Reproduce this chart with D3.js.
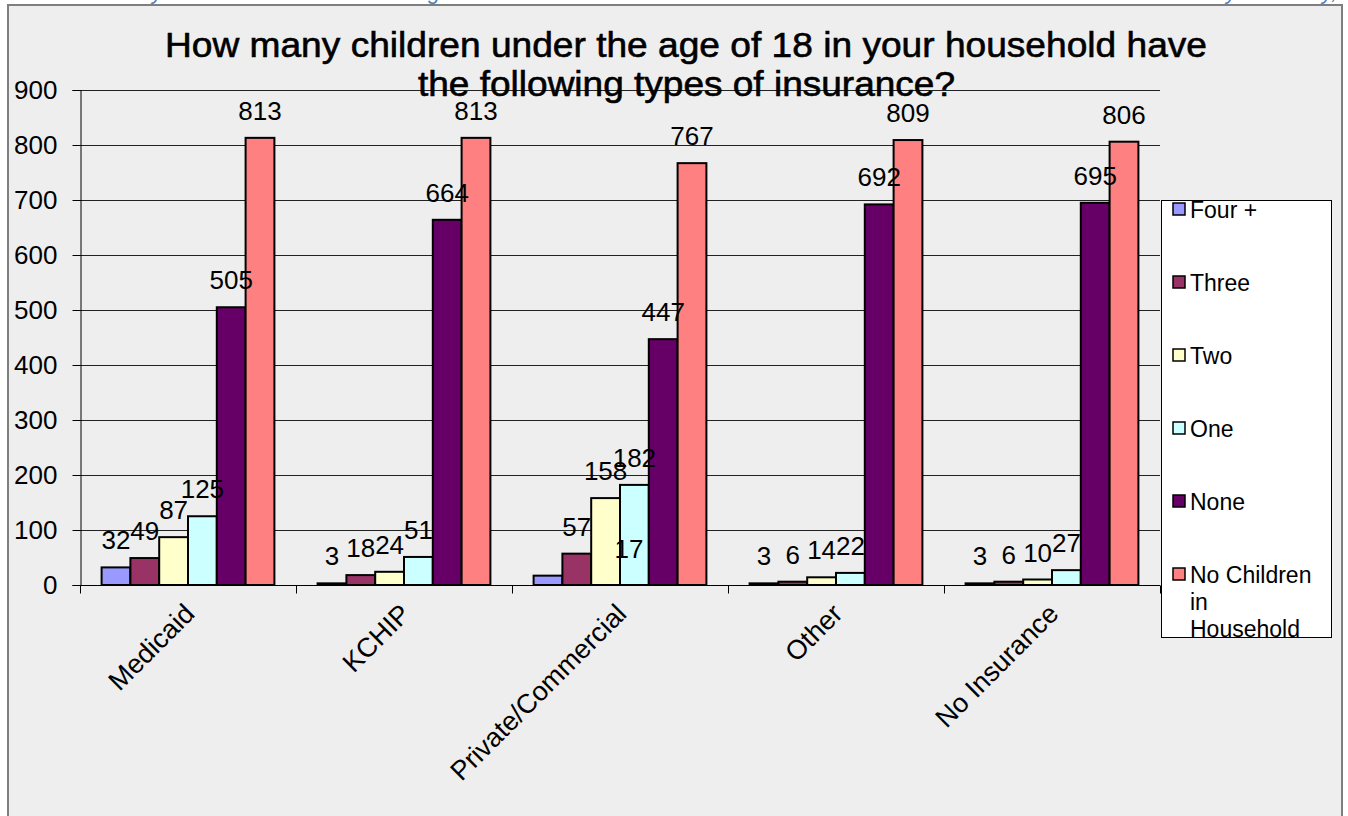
<!DOCTYPE html>
<html><head><meta charset="utf-8">
<script src="https://cdn.jsdelivr.net/npm/d3@7"></script>
<style>
html,body{margin:0;padding:0;background:#fff;}
svg{display:block;font-family:Arial,"Liberation Sans",sans-serif;}
</style></head>
<body>
<svg id="chart" width="1348" height="816"></svg>
<script>
const categories = ["Medicaid", "KCHIP", "Private/Commercial", "Other", "No Insurance"];
const seriesNames = ["Four +", "Three", "Two", "One", "None", "No Children in Household"];
const fourPlus   = [32, 3, 17, 3, 3];
const three      = [49, 18, 57, 6, 6];
const two        = [87, 24, 158, 14, 10];
const one        = [125, 51, 182, 22, 27];
const none       = [505, 664, 447, 692, 695];
const noChildren = [813, 813, 767, 809, 806];
const yTicks = [0, 100, 200, 300, 400, 500, 600, 700, 800, 900];
const titleLines = ["How many children under the age of 18 in your household have", "the following types of insurance?"];
const legendLines = [["Four +"], ["Three"], ["Two"], ["One"], ["None"], ["No Children", "in", "Household"]];
const colors = ["#9999FF", "#993366", "#FFFFCC", "#CCFFFF", "#660066", "#FF8080"];
const seriesValues = [fourPlus, three, two, one, none, noChildren];
// manual label shift (as in the original, one label was moved)
const labelShift = {"Private/Commercial|Four +": [81, 0]};

const svg = d3.select("#chart");
// faint cut-off text at very top
const topG = svg.append("g").attr("fill", "#4a7ebb").attr("font-style", "italic").attr("font-size", 22);
[["y",152],["g",428],["y",1226],["y,",1322]].forEach(([t,x]) => topG.append("text").attr("x", x).attr("y", -1).text(t));

// chart area
svg.append("rect").attr("x", 8).attr("y", 5).attr("width", 1334).attr("height", 830)
  .attr("fill", "#eeeeee").attr("stroke", "#7f7f7f").attr("stroke-width", 2);

const x0 = d3.scaleBand().domain(categories).range([80, 1160]).paddingInner(0).paddingOuter(0);
const x1 = d3.scaleBand().domain(seriesNames).range([0, x0.bandwidth()]).paddingInner(0).paddingOuter(0.75);
const y = d3.scaleLinear().domain([0, 900]).range([585, 90]);

// gridlines
svg.append("g").selectAll("line").data(yTicks).join("line")
  .attr("x1", 80).attr("x2", 1160).attr("y1", d => Math.round(y(d)) + 0.5).attr("y2", d => Math.round(y(d)) + 0.5)
  .attr("stroke", "#222").attr("stroke-width", 1);

// y axis
const yAxis = svg.append("g").attr("transform", "translate(80.5,0)")
  .call(d3.axisLeft(y).tickValues(yTicks).tickSize(8).tickPadding(15));
yAxis.select(".domain").attr("stroke", "#000");
yAxis.selectAll(".tick line").attr("stroke", "#000");
yAxis.selectAll("text").attr("font-size", 26).attr("font-family", "Arial, Liberation Sans, sans-serif").attr("fill", "#000");

// x axis
const xAxisG = svg.append("g").attr("transform", "translate(0," + (Math.round(y(0)) + 0.5) + ")");
xAxisG.append("line").attr("x1", 80).attr("x2", 1160).attr("stroke", "#000");
const bounds = categories.map(c => x0(c)).concat([x0.range()[1]]);
xAxisG.selectAll("line.tk").data(bounds).join("line").attr("class", "tk")
  .attr("x1", d => Math.round(d) + 0.5).attr("x2", d => Math.round(d) + 0.5).attr("y1", 0).attr("y2", 8).attr("stroke", "#000");
xAxisG.selectAll("text").data(categories).join("text")
  .attr("transform", d => "translate(" + (x0(d) + x0.bandwidth() / 2 + 8) + ",30) rotate(-45)")
  .attr("text-anchor", "end").attr("font-size", 27).attr("fill", "#000").text(d => d);

// bars
const data = [];
categories.forEach((c, ci) => seriesNames.forEach((s, si) => data.push({c, s, si, v: seriesValues[si][ci]})));
svg.append("g").selectAll("rect").data(data).join("rect")
  .attr("x", d => x0(d.c) + x1(d.s))
  .attr("y", d => y(d.v))
  .attr("width", x1.bandwidth())
  .attr("height", d => y(0) - y(d.v))
  .attr("fill", d => colors[d.si])
  .attr("stroke", "#000").attr("stroke-width", 2);

// labels
svg.append("g").selectAll("text").data(data).join("text")
  .attr("x", d => x0(d.c) + x1(d.s) + x1.bandwidth() / 2 + ((labelShift[d.c + "|" + d.s] || [0, 0])[0]))
  .attr("y", d => y(d.v) - 18 + ((labelShift[d.c + "|" + d.s] || [0, 0])[1]))
  .attr("text-anchor", "middle").attr("font-size", 26).attr("fill", "#000").text(d => d.v);

// title
const titleX = [[165, 1042], [418, 537]];
svg.append("g").selectAll("text").data(titleLines).join("text")
  .attr("x", (d, i) => titleX[i][0]).attr("y", (d, i) => 57 + i * 39)
  .attr("textLength", (d, i) => titleX[i][1]).attr("lengthAdjust", "spacingAndGlyphs")
  .attr("font-size", 35).attr("fill", "#000").attr("stroke", "#000").attr("stroke-width", 0.6).text(d => d);

// legend
const lg = svg.append("g");
lg.append("rect").attr("x", 1161.5).attr("y", 200.5).attr("width", 170).attr("height", 437)
  .attr("fill", "#fff").attr("stroke", "#000").attr("stroke-width", 1);
legendLines.forEach((lines, i) => {
  const by = 218 + i * 73;
  lg.append("rect").attr("x", 1173).attr("y", by - 15).attr("width", 12).attr("height", 12)
    .attr("fill", colors[i]).attr("stroke", "#000").attr("stroke-width", 1.5);
  lines.forEach((t, j) => lg.append("text").attr("x", 1190).attr("y", by + j * 27)
    .attr("font-size", 23).attr("fill", "#000").text(t));
});
</script>
</body></html>
